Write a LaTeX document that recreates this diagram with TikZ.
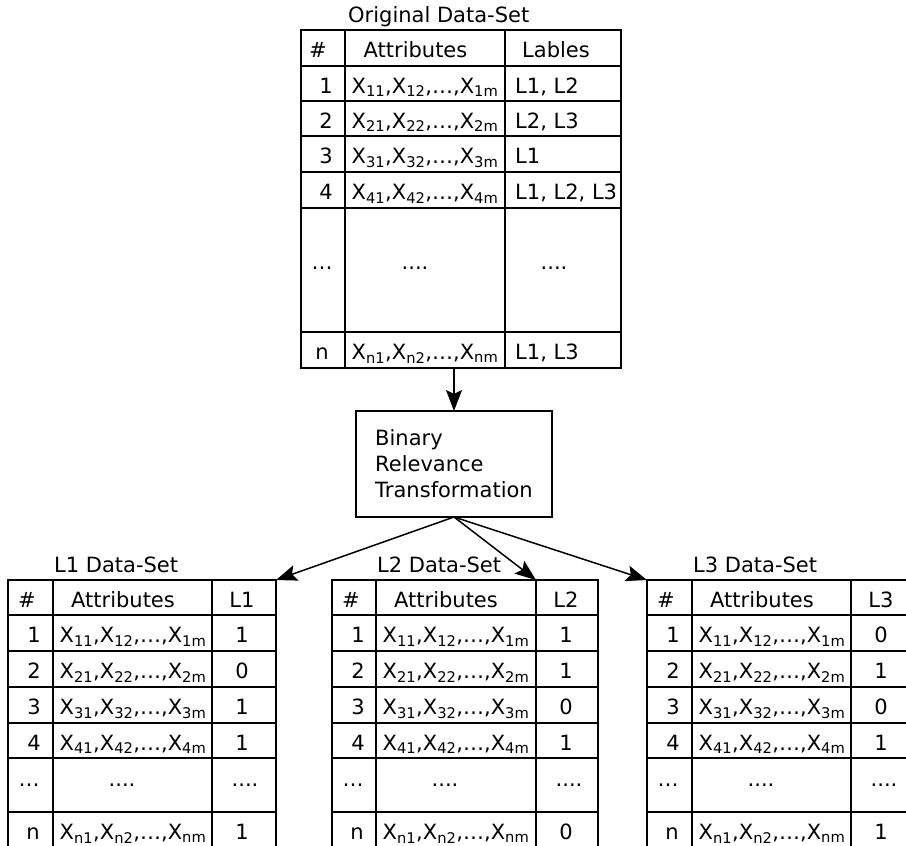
\documentclass[tikz,border=0pt]{standalone}
\usepackage{fontspec}
\setmainfont{DejaVu Sans}
\usetikzlibrary{arrows.meta}
\newcommand{\xrow}[3]{X\textsubscript{#1},X\textsubscript{#2},…,X\textsubscript{#3}}
\begin{document}
\begin{tikzpicture}[x=1pt,y=-1pt,
  font=\fontsize{21}{26}\selectfont,
  tl/.style={line width=1.9pt},
  frame/.style={draw, line width=1.9pt, anchor=north west, inner sep=0pt, outer sep=0pt},
  txt/.style={anchor=base, inner sep=0pt},
  arr/.style={line width=1.5pt, -{Stealth[length=21pt,width=16pt,inset=4pt]}}]
\useasboundingbox (0,0) rectangle (906,846);

% ---------- Original data set ----------
\node[txt, anchor=base west] (otitle) at (348,22.5) {Original Data-Set};
\node[frame, minimum width=320pt, minimum height=338pt] (orig) at (301,30) {};
\foreach \y in {66,101,136,172,208,332} \draw[tl] (301,\y) -- (621,\y);
\foreach \x in {345,505} \draw[tl] (\x,30) -- (\x,368);

\node[txt] (oh1) at (318,57.5) {\#};
\node[txt] (oh2) at (415.5,57.5) {Attributes};
\node[txt] (oh3) at (556,57.5) {Lables};
\foreach \i/\b/\lab in {1/93/{L1, L2},2/128/{L2, L3},3/163.5/{L1},4/199.5/{L1, L2, L3}}{
  \node[txt] (on\i) at (326,\b) {\i};
  \node[txt] (oa\i) at (425,\b) {\xrow{\i1}{\i2}{\i m}};
  \node[txt, anchor=base west] (ol\i) at (515,\b) {\lab};
}
\node[txt] (ond) at (322,269) {…};
\node[txt] (oad) at (415,269) {....};
\node[txt] (old) at (554,269) {....};
\node[txt] (onn) at (322,359.5) {n};
\node[txt] (oan) at (425,359.5) {\xrow{n1}{n2}{nm}};
\node[txt, anchor=base west] (oln) at (515,359.5) {L1, L3};

% ---------- Transformation box ----------
\node[draw, line width=1.9pt, minimum width=196pt, minimum height=106pt,
      align=left, inner sep=0pt, outer sep=0pt] (brt) at (454,464)
      {Binary\\Relevance\\Transformation};
\draw[arr] (brt.north |- orig.south) -- (brt.north);

% ---------- Binary data sets ----------
\foreach \xa/\ca/\cb/\xe/\L/\va/\vb/\vc/\vd/\vn in
  {8/53/212/276/L1/1/0/1/1/1,
   332/376/536/598/L2/1/1/0/1/0,
   647/692/851/915/L3/0/1/0/1/1}{
  \node[txt, anchor=base west] (ti\L) at (\ca+1,572) {\L{} Data-Set};
  \node[frame, minimum width=\xe-\xa, minimum height=268pt] (t\L) at (\xa,580) {};
  \coordinate (c\L) at (\cb,580);
  \foreach \y in {615,651,687,723,758,812} \draw[tl] (\xa,\y) -- (\xe,\y);
  \foreach \x in {\ca,\cb} \draw[tl] (\x,580) -- (\x,848);
  \node[txt] (h1\L) at (\xa+19,607) {\#};
  \node[txt] (h2\L) at (\ca+70,607) {Attributes};
  \node[txt] (h3\L) at (\cb+30,607) {\L};
  \foreach \i/\b/\v in {1/642.5/\va,2/678.5/\vb,3/714.5/\vc,4/750/\vd}{
    \node[txt] (n\i\L) at (\xa+26,\b) {\i};
    \node[txt] (a\i\L) at (\ca+80,\b) {\xrow{\i1}{\i2}{\i m}};
    \node[txt] (v\i\L) at (\cb+30,\b) {\v};
  }
  \node[txt] (nd\L) at (\xa+21,786.5) {…};
  \node[txt] (ad\L) at (\ca+69,786.5) {....};
  \node[txt] (vd\L) at (\cb+33,786.5) {....};
  \node[txt] (nn\L) at (\xa+25,839.5) {n};
  \node[txt] (an\L) at (\ca+80,839.5) {\xrow{n1}{n2}{nm}};
  \node[txt] (vn\L) at (\cb+30,839.5) {\vn};
}

\draw[arr] (brt.south) -- (tL1.north east);
\draw[arr] (brt.south) -- (cL2);
\draw[arr] (brt.south) -- (tL3.north west);
\end{tikzpicture}
\end{document}
